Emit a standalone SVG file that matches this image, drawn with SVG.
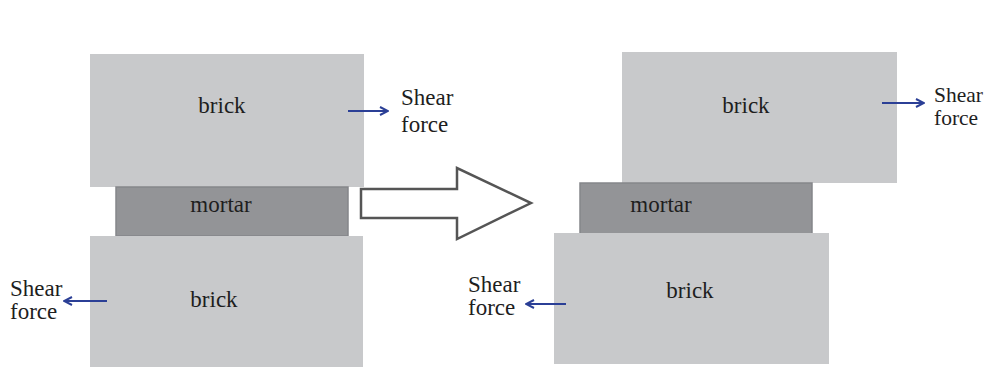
<svg xmlns="http://www.w3.org/2000/svg" width="985" height="367" viewBox="0 0 985 367">
<defs>
<style>
.brick{fill:#c8c9cb}
.mortar{fill:#939497;stroke:#85868a;stroke-width:1.5}
.t{font-family:'Liberation Serif','DejaVu Serif',serif;font-size:23px;fill:#1e1e1e}
.force{stroke:#2b3f96;stroke-width:2.2;fill:none}
.big{fill:#fff;stroke:#555;stroke-width:2.5;stroke-linejoin:miter}
</style>
<marker id="ah" viewBox="0 0 10 10" refX="9" refY="5" markerWidth="10" markerHeight="10" markerUnits="userSpaceOnUse" orient="auto">
<path d="M1,1 L9,5 L1,9" fill="none" stroke="#2b3f96" stroke-width="2"/>
</marker>
</defs>
<rect width="985" height="367" fill="#fff"/>
<g id="left-top-brick"><rect class="brick" x="90" y="54" width="274" height="133"/><text class="t" x="222" y="113" text-anchor="middle">brick</text></g>
<g id="left-mortar"><rect class="mortar" x="116" y="187" width="232" height="49"/><text class="t" x="221" y="212" text-anchor="middle">mortar</text></g>
<g id="left-bottom-brick"><rect class="brick" x="90" y="236" width="273" height="131"/><text class="t" x="214" y="307" text-anchor="middle">brick</text></g>
<g id="right-top-brick"><rect class="brick" x="622" y="52" width="275" height="131"/><text class="t" x="746" y="113" text-anchor="middle">brick</text></g>
<g id="right-mortar"><rect class="mortar" x="580" y="183" width="232" height="51"/><text class="t" x="661" y="212" text-anchor="middle">mortar</text></g>
<g id="right-bottom-brick"><rect class="brick" x="554" y="233" width="275" height="131"/><text class="t" x="690" y="298" text-anchor="middle">brick</text></g>
<g id="labels">
<text class="t" x="401" y="105">Shear</text><text class="t" x="401" y="132">force</text>
<text class="t" x="10" y="296">Shear</text><text class="t" x="10" y="319">force</text>
<text class="t" x="934" y="102" style="font-size:21.5px">Shear</text><text class="t" x="934" y="125" style="font-size:21.5px">force</text>
<text class="t" x="468" y="292">Shear</text><text class="t" x="468" y="315">force</text>
</g>
<g id="connectors">
<line class="force" x1="348" y1="111" x2="388" y2="111" marker-end="url(#ah)"/>
<line class="force" x1="107" y1="301" x2="64" y2="301" marker-end="url(#ah)"/>
<line class="force" x1="882" y1="103" x2="924" y2="103" marker-end="url(#ah)"/>
<line class="force" x1="566" y1="304" x2="526" y2="304" marker-end="url(#ah)"/>
<path class="big" d="M361,189 L457,189 L457,168 L531,203 L457,239 L457,218 L361,218 Z"/>
</g>
</svg>
